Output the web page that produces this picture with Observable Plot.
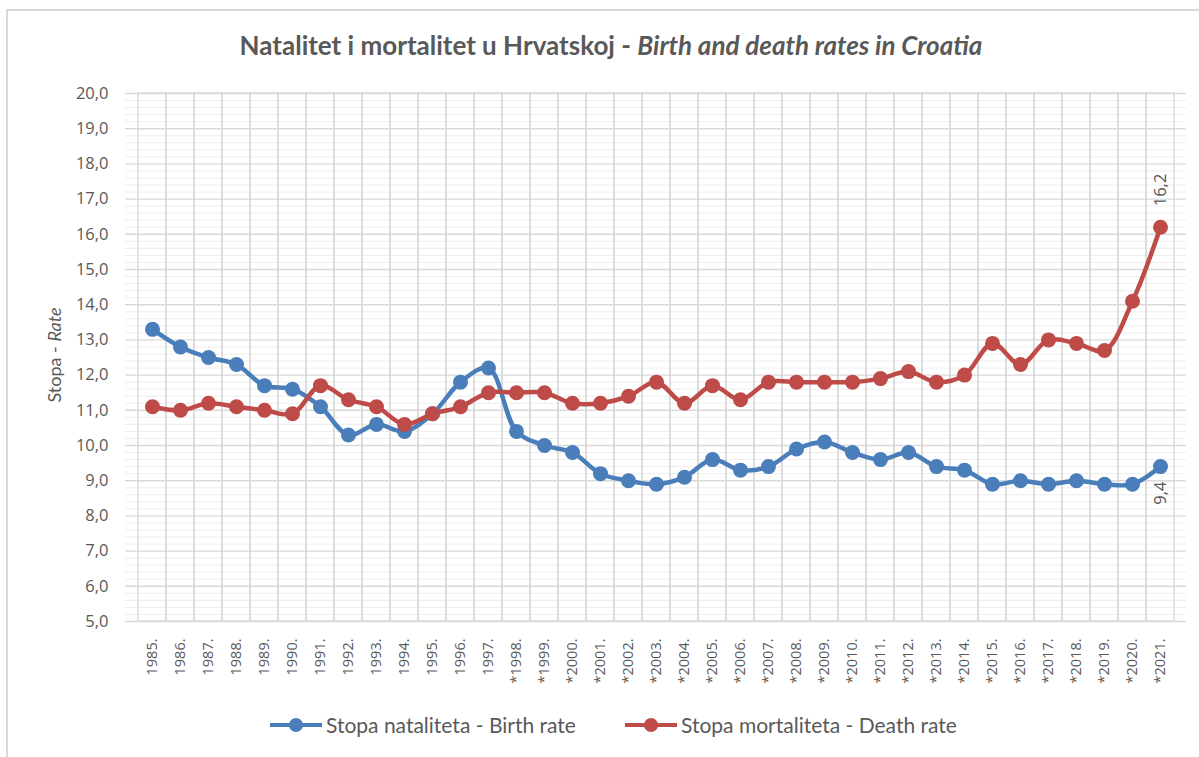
<!DOCTYPE html>
<html>
<head>
<meta charset="utf-8">
<script src="https://cdn.jsdelivr.net/npm/d3@7"></script>
<script src="https://cdn.jsdelivr.net/npm/@observablehq/plot@0.6"></script>
<style>
  body { margin: 0; background: #fff; font-family: Lato, "Open Sans", sans-serif; color: #595959; }
  #wrap { position: relative; width: 1199px; height: 757px; overflow: hidden; }
  #frame { position: absolute; left: 6px; top: 9px; width: 1300px; height: 800px; border: 2px solid #d9d9d9; box-sizing: border-box; }
  #title { position: absolute; top: 29px; left: 0; width: 1222px; text-align: center; font-size: 26px; font-weight: bold; color: #595959; }
  #ylab { position: absolute; left: 54px; top: 355px; transform: translate(-50%, -50%) rotate(-90deg); font-size: 18px; white-space: nowrap; }
  #chart { position: absolute; left: 0; top: 75px; }
  .leg { position: absolute; top: 712px; font-size: 21px; display: flex; align-items: center; white-space: nowrap; }
  .mk { position: relative; width: 52px; height: 4px; margin-right: 4px; }
  .mk i { position: absolute; left: 19px; top: -5px; width: 14px; height: 14px; border-radius: 50%; }
</style>
</head>
<body>
<div id="wrap">
  <div id="frame"></div>
  <div id="title">Natalitet i mortalitet u Hrvatskoj - <i>Birth and death rates in Croatia</i></div>
  <div id="ylab">Stopa - <i>Rate</i></div>
  <div id="chart"></div>
  <div class="leg" style="left:270px"><div class="mk" style="background:#4a7ebb"><i style="background:#4a7ebb"></i></div>Stopa nataliteta - Birth rate</div>
  <div class="leg" style="left:625px"><div class="mk" style="background:#be4b48"><i style="background:#be4b48"></i></div>Stopa mortaliteta - Death rate</div>
</div>
<script>
const years = ["1985.","1986.","1987.","1988.","1989.","1990.","1991.","1992.","1993.","1994.","1995.","1996.","1997.",
  "*1998.","*1999.","*2000.","*2001.","*2002.","*2003.","*2004.","*2005.","*2006.","*2007.","*2008.","*2009.",
  "*2010.","*2011.","*2012.","*2013.","*2014.","*2015.","*2016.","*2017.","*2018.","*2019.","*2020.","*2021."];
const birthRate = [13.3,12.8,12.5,12.3,11.7,11.6,11.1,10.3,10.6,10.4,10.9,11.8,12.2,
  10.4,10.0,9.8,9.2,9.0,8.9,9.1,9.6,9.3,9.4,9.9,10.1,
  9.8,9.6,9.8,9.4,9.3,8.9,9.0,8.9,9.0,8.9,8.9,9.4];
const deathRate = [11.1,11.0,11.2,11.1,11.0,10.9,11.7,11.3,11.1,10.6,10.9,11.1,11.5,
  11.5,11.5,11.2,11.2,11.4,11.8,11.2,11.7,11.3,11.8,11.8,11.8,
  11.8,11.9,12.1,11.8,12.0,12.9,12.3,13.0,12.9,12.7,14.1,16.2];
const yTicks = [5,6,7,8,9,10,11,12,13,14,15,16,17,18,19,20];

const rows = years.map((y, i) => ({year: y, birth: birthRate[i], death: deathRate[i]}));
const fmt = v => d3.format(".1f")(v).replace(".", ",");
const minor = d3.range(50, 201, 2).map(v => v / 10).filter(v => !Number.isInteger(v));
const blue = "#4a7ebb", red = "#be4b48";
const last = rows.slice(-1);
const tickFont = "'Open Sans', Lato, sans-serif";

const chart = Plot.plot({
  width: 1199,
  height: 625,
  marginLeft: 125,
  marginRight: 13,
  marginTop: 18,
  marginBottom: 79,
  style: {fontFamily: tickFont, color: "#595959", background: "transparent"},
  x: {type: "band", domain: years, padding: 0},
  y: {domain: [5, 20]},
  marks: [
    Plot.ruleY(minor, {stroke: "#eeeeee", strokeWidth: 1}),
    Plot.ruleY(yTicks, {stroke: "#d9d9d9", strokeWidth: 1.4}),
    Plot.cell(years, {x: d => d, fill: "none", stroke: "#d9d9d9", strokeWidth: 1.4}),
    Plot.axisY({ticks: yTicks, tickFormat: fmt, tickSize: 0, tickPadding: 17, fontSize: 16.5, label: null}),
    Plot.axisX({tickRotate: -90, tickSize: 0, tickPadding: 17, fontSize: 14.5, label: null}),
    Plot.line(rows, {x: "year", y: "birth", stroke: blue, strokeWidth: 4.5, curve: "catmull-rom"}),
    Plot.dot(rows, {x: "year", y: "birth", fill: blue, r: 7.5}),
    Plot.line(rows, {x: "year", y: "death", stroke: red, strokeWidth: 4.5, curve: "catmull-rom"}),
    Plot.dot(rows, {x: "year", y: "death", fill: red, r: 7.5}),
    Plot.text(last, {x: "year", y: "death", text: d => fmt(d.death), rotate: -90, textAnchor: "start", dy: -21, fontSize: 16.5, fill: "#595959"}),
    Plot.text(last, {x: "year", y: "birth", text: d => fmt(d.birth), rotate: -90, textAnchor: "end", dy: 15, fontSize: 16.5, fill: "#595959"})
  ]
});
document.getElementById("chart").appendChild(chart);
</script>
</body>
</html>
